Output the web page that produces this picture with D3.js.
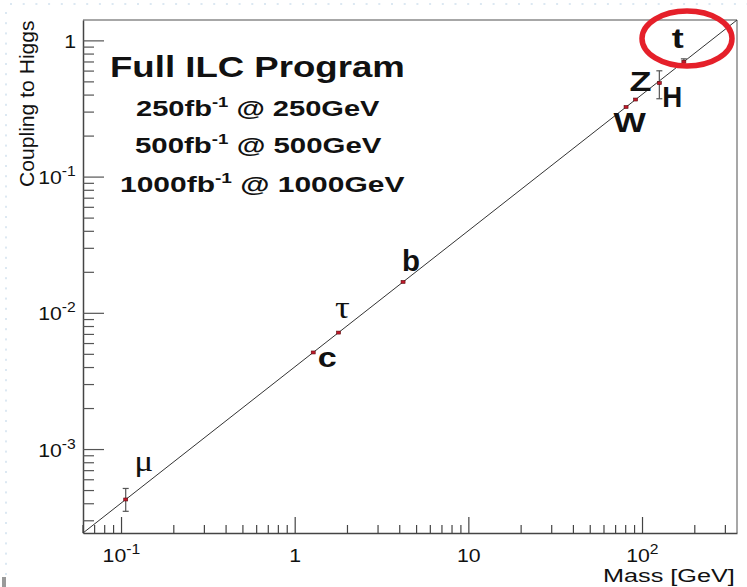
<!DOCTYPE html>
<html>
<head>
<meta charset="utf-8">
<script src="https://cdn.jsdelivr.net/npm/d3@7"></script>
<style>
  html, body { margin: 0; padding: 0; background: #fff; }
  svg { display: block; font-family: "Liberation Sans", Arial, Helvetica, sans-serif; }
</style>
</head>
<body>
<svg id="chart" width="747" height="587"></svg>
<script>
// Particle masses (GeV) and their couplings to the Higgs boson
const particles = ["μ", "c", "τ", "b", "W", "Z", "H", "t"];
const masses    = [0.1057, 1.27, 1.777, 4.18, 80.4, 91.2, 125, 173];
const couplings = [0.00043, 0.00516, 0.00722, 0.0170, 0.327, 0.371, 0.49, 0.703];
const errLow    = [0.000352, 0.00509, 0.00712, 0.0168, 0.323, 0.366, 0.376, 0.668];
const errHigh   = [0.000518, 0.00523, 0.00732, 0.0172, 0.331, 0.376, 0.603, 0.738];

// Reference line: coupling proportional to mass
const lineMass     = [0.06, 350];
const lineCoupling = [0.000244, 1.423];

// Axis ranges and major tick labels
const xDomain = [0.06, 350];
const yDomain = [0.000244, 1.423];
const xMajor = [0.1, 1, 10, 100];
const xMajorLabels = [["10", "-1"], ["1", ""], ["10", ""], ["10", "2"]];
const yMajor = [0.001, 0.01, 0.1, 1];
const yMajorLabels = [["10", "-3"], ["10", "-2"], ["10", "-1"], ["1", ""]];

// Headline text
const titleText = "Full ILC Program";
const runLines = [["250fb", "-1", " @ 250GeV"], ["500fb", "-1", " @ 500GeV"], ["1000fb", "-1", " @ 1000GeV"]];

const svg = d3.select("#chart");
const W = 747;
const plot = { left: 83, right: 737, top: 20, bottom: 533 };

// Draws a text into its own group and stretches it horizontally.
// opts: size, weight, family, y (baseline), and either x0/x1 (span) or
// anchor point (cx or xr) with a fixed horizontal scale sx.
function label(build, opts) {
  const g = svg.append("g");
  const t = g.append("text").attr("x", 0).attr("y", 0)
    .attr("font-size", opts.size).attr("font-weight", opts.weight || "normal")
    .attr("fill", "#111");
  if (opts.family) t.attr("font-family", opts.family);
  build(t);
  const bb = t.node().getBBox();
  let sx, x0;
  if (opts.x1 !== undefined) { sx = (opts.x1 - opts.x0) / bb.width; x0 = opts.x0; }
  else if (opts.cx !== undefined) { sx = opts.sx; x0 = opts.cx - bb.width * sx / 2; }
  else { sx = opts.sx; x0 = opts.xr - bb.width * sx; }
  g.attr("transform", `translate(${x0},${opts.y}) scale(${sx},1) translate(${-bb.x},0)`);
  return g;
}
function supText(base, sup, rest, supSize, rise) {
  return t => {
    t.append("tspan").text(base);
    if (sup) t.append("tspan").attr("dy", -rise).attr("font-size", supSize).text(sup);
    if (rest) t.append("tspan").attr("dy", rise).text(rest);
  };
}

// Faint dotted slide background along the top and left edges
const bg = svg.append("g");
for (let x = 10; x < W; x += 12.7) bg.append("rect").attr("x", x).attr("y", 3).attr("width", 2).attr("height", 2).attr("fill", "#dce8f2");
for (let y = 12; y < 575; y += 10.2) bg.append("rect").attr("x", 5).attr("y", y).attr("width", 2).attr("height", 2).attr("fill", "#dce8f2");
bg.append("rect").attr("x", 2).attr("y", 577).attr("width", 4).attr("height", 10).attr("fill", "#9a9a9a");

const x = d3.scaleLog().domain(xDomain).range([plot.left, plot.right]);
const y = d3.scaleLog().domain(yDomain).range([plot.bottom, plot.top]);

// Frame
svg.append("line").attr("x1", plot.left).attr("x2", plot.right).attr("y1", plot.top).attr("y2", plot.top).attr("stroke", "#8a8a8a").attr("stroke-width", 1.5);
svg.append("line").attr("x1", plot.right).attr("x2", plot.right).attr("y1", plot.top).attr("y2", plot.bottom).attr("stroke", "#8a8a8a").attr("stroke-width", 1.5);

// Major (1) and minor (2..9) ticks of each decade inside a log domain
function logTicks(domain) {
  const out = [];
  const lo = Math.floor(Math.log10(domain[0])), hi = Math.ceil(Math.log10(domain[1]));
  for (let e = lo; e <= hi; e++) {
    for (let m = 1; m <= 9; m++) {
      const v = m * Math.pow(10, e);
      if (v >= domain[0] * 0.999 && v <= domain[1] * 1.001) out.push({ v, major: m === 1 });
    }
  }
  return out;
}

// X axis
const xAxis = svg.append("g").attr("transform", `translate(0,${plot.bottom})`)
  .call(d3.axisBottom(x).tickValues([]).tickSizeOuter(0));
xAxis.select(".domain").attr("stroke", "#444").attr("stroke-width", 1.5);
xAxis.selectAll(".mt").data(logTicks(xDomain)).enter().append("line")
  .attr("x1", d => x(d.v)).attr("x2", d => x(d.v))
  .attr("y1", 0).attr("y2", d => d.major ? -16 : -8)
  .attr("stroke", "#444").attr("stroke-width", 1.2);
xMajor.forEach((v, i) => {
  label(supText(xMajorLabels[i][0], xMajorLabels[i][1], "", 14, 8),
    { size: 19, cx: x(v), sx: 1.12, y: 562 });
});
label(t => t.text("Mass [GeV]"), { size: 18.5, x0: 603, x1: 735, y: 582 });

// Y axis
const yAxis = svg.append("g").attr("transform", `translate(${plot.left},0)`)
  .call(d3.axisLeft(y).tickValues([]).tickSizeOuter(0));
yAxis.select(".domain").attr("stroke", "#444").attr("stroke-width", 1.5);
yAxis.selectAll(".mt").data(logTicks(yDomain)).enter().append("line")
  .attr("y1", d => y(d.v)).attr("y2", d => y(d.v))
  .attr("x1", 0).attr("x2", d => d.major ? 21 : 11)
  .attr("stroke", "#555").attr("stroke-width", 1.2);
yMajor.forEach((v, i) => {
  label(supText(yMajorLabels[i][0], yMajorLabels[i][1], "", 14, 8),
    { size: 19, xr: 76, sx: 1.12, y: y(v) + 7 });
});

// Rotated axis title, stretched along its length
{
  const g = svg.append("g");
  const t = g.append("text").attr("font-size", 19.5).attr("fill", "#111").text("Coupling to Higgs");
  const bb = t.node().getBBox();
  const len = 167;
  g.attr("transform", `translate(34,${20 + len}) rotate(-90) scale(${len / bb.width},1.08) translate(${-bb.x},0)`);
}

// Proportionality line
svg.append("line")
  .attr("x1", x(lineMass[0])).attr("y1", y(lineCoupling[0]))
  .attr("x2", x(lineMass[1])).attr("y2", y(lineCoupling[1]))
  .attr("stroke", "#333").attr("stroke-width", 1);

// Error bars and markers
const pts = particles.map((p, i) => ({ p, m: masses[i], c: couplings[i], lo: errLow[i], hi: errHigh[i] }));
const eb = svg.append("g").attr("stroke", "#555").attr("stroke-width", 1.2);
pts.forEach(d => {
  const cx = x(d.m);
  eb.append("line").attr("x1", cx).attr("x2", cx).attr("y1", y(d.lo)).attr("y2", y(d.hi));
  if (y(d.lo) - y(d.hi) > 4) {
    eb.append("line").attr("x1", cx - 3).attr("x2", cx + 3).attr("y1", y(d.lo)).attr("y2", y(d.lo));
    eb.append("line").attr("x1", cx - 3).attr("x2", cx + 3).attr("y1", y(d.hi)).attr("y2", y(d.hi));
  }
});
svg.append("g").selectAll("rect").data(pts).enter().append("rect")
  .attr("x", d => x(d.m) - 2).attr("y", d => y(d.c) - 1.5)
  .attr("width", 4).attr("height", 3)
  .attr("fill", "#c0182a").attr("stroke", "#5a1010").attr("stroke-width", 0.6);

// Particle labels: offset of the glyph centre/baseline from the point, size, weight
const labelStyle = {
  "μ": { dx: 18, dy: -28, w: 19, size: 30, bold: false, serif: true },
  "c": { dx: 14, dy: 15, w: 19, size: 27, bold: true },
  "τ": { dx: 4, dy: -15, w: 15, size: 32, bold: false, serif: true },
  "b": { dx: 8, dy: -11, w: 18, size: 30, bold: true },
  "W": { dx: 4, dy: 25, w: 33, size: 27, bold: true },
  "Z": { dx: 5, dy: -9, w: 22, size: 27, bold: true },
  "H": { dx: 13, dy: 24, w: 20, size: 29, bold: true },
  "t": { dx: -6, dy: -14, w: 12, size: 28, bold: true }
};
pts.forEach(d => {
  const s = labelStyle[d.p];
  const cx = x(d.m) + s.dx;
  label(t => t.text(d.p), {
    size: s.size, weight: s.bold ? "bold" : "normal",
    family: s.serif ? "'Liberation Serif', 'DejaVu Serif', serif" : null,
    x0: cx - s.w / 2, x1: cx + s.w / 2, y: y(d.c) + s.dy
  });
});

// Headline block
label(t => t.text(titleText), { size: 29, weight: "bold", x0: 110, x1: 405, y: 77 });
const runSpans = [[136, 380, 116], [135, 382, 153], [120, 405, 192]];
runLines.forEach((r, i) => {
  label(supText(r[0], r[1], r[2], 14, 9),
    { size: 22, weight: "bold", x0: runSpans[i][0], x1: runSpans[i][1], y: runSpans[i][2] });
});

// Highlight ring around the top quark
svg.append("ellipse").attr("cx", 687).attr("cy", 38.5).attr("rx", 45).attr("ry", 27.5)
  .attr("fill", "none").attr("stroke", "#e5202a").attr("stroke-width", 5.5);
</script>
</body>
</html>
